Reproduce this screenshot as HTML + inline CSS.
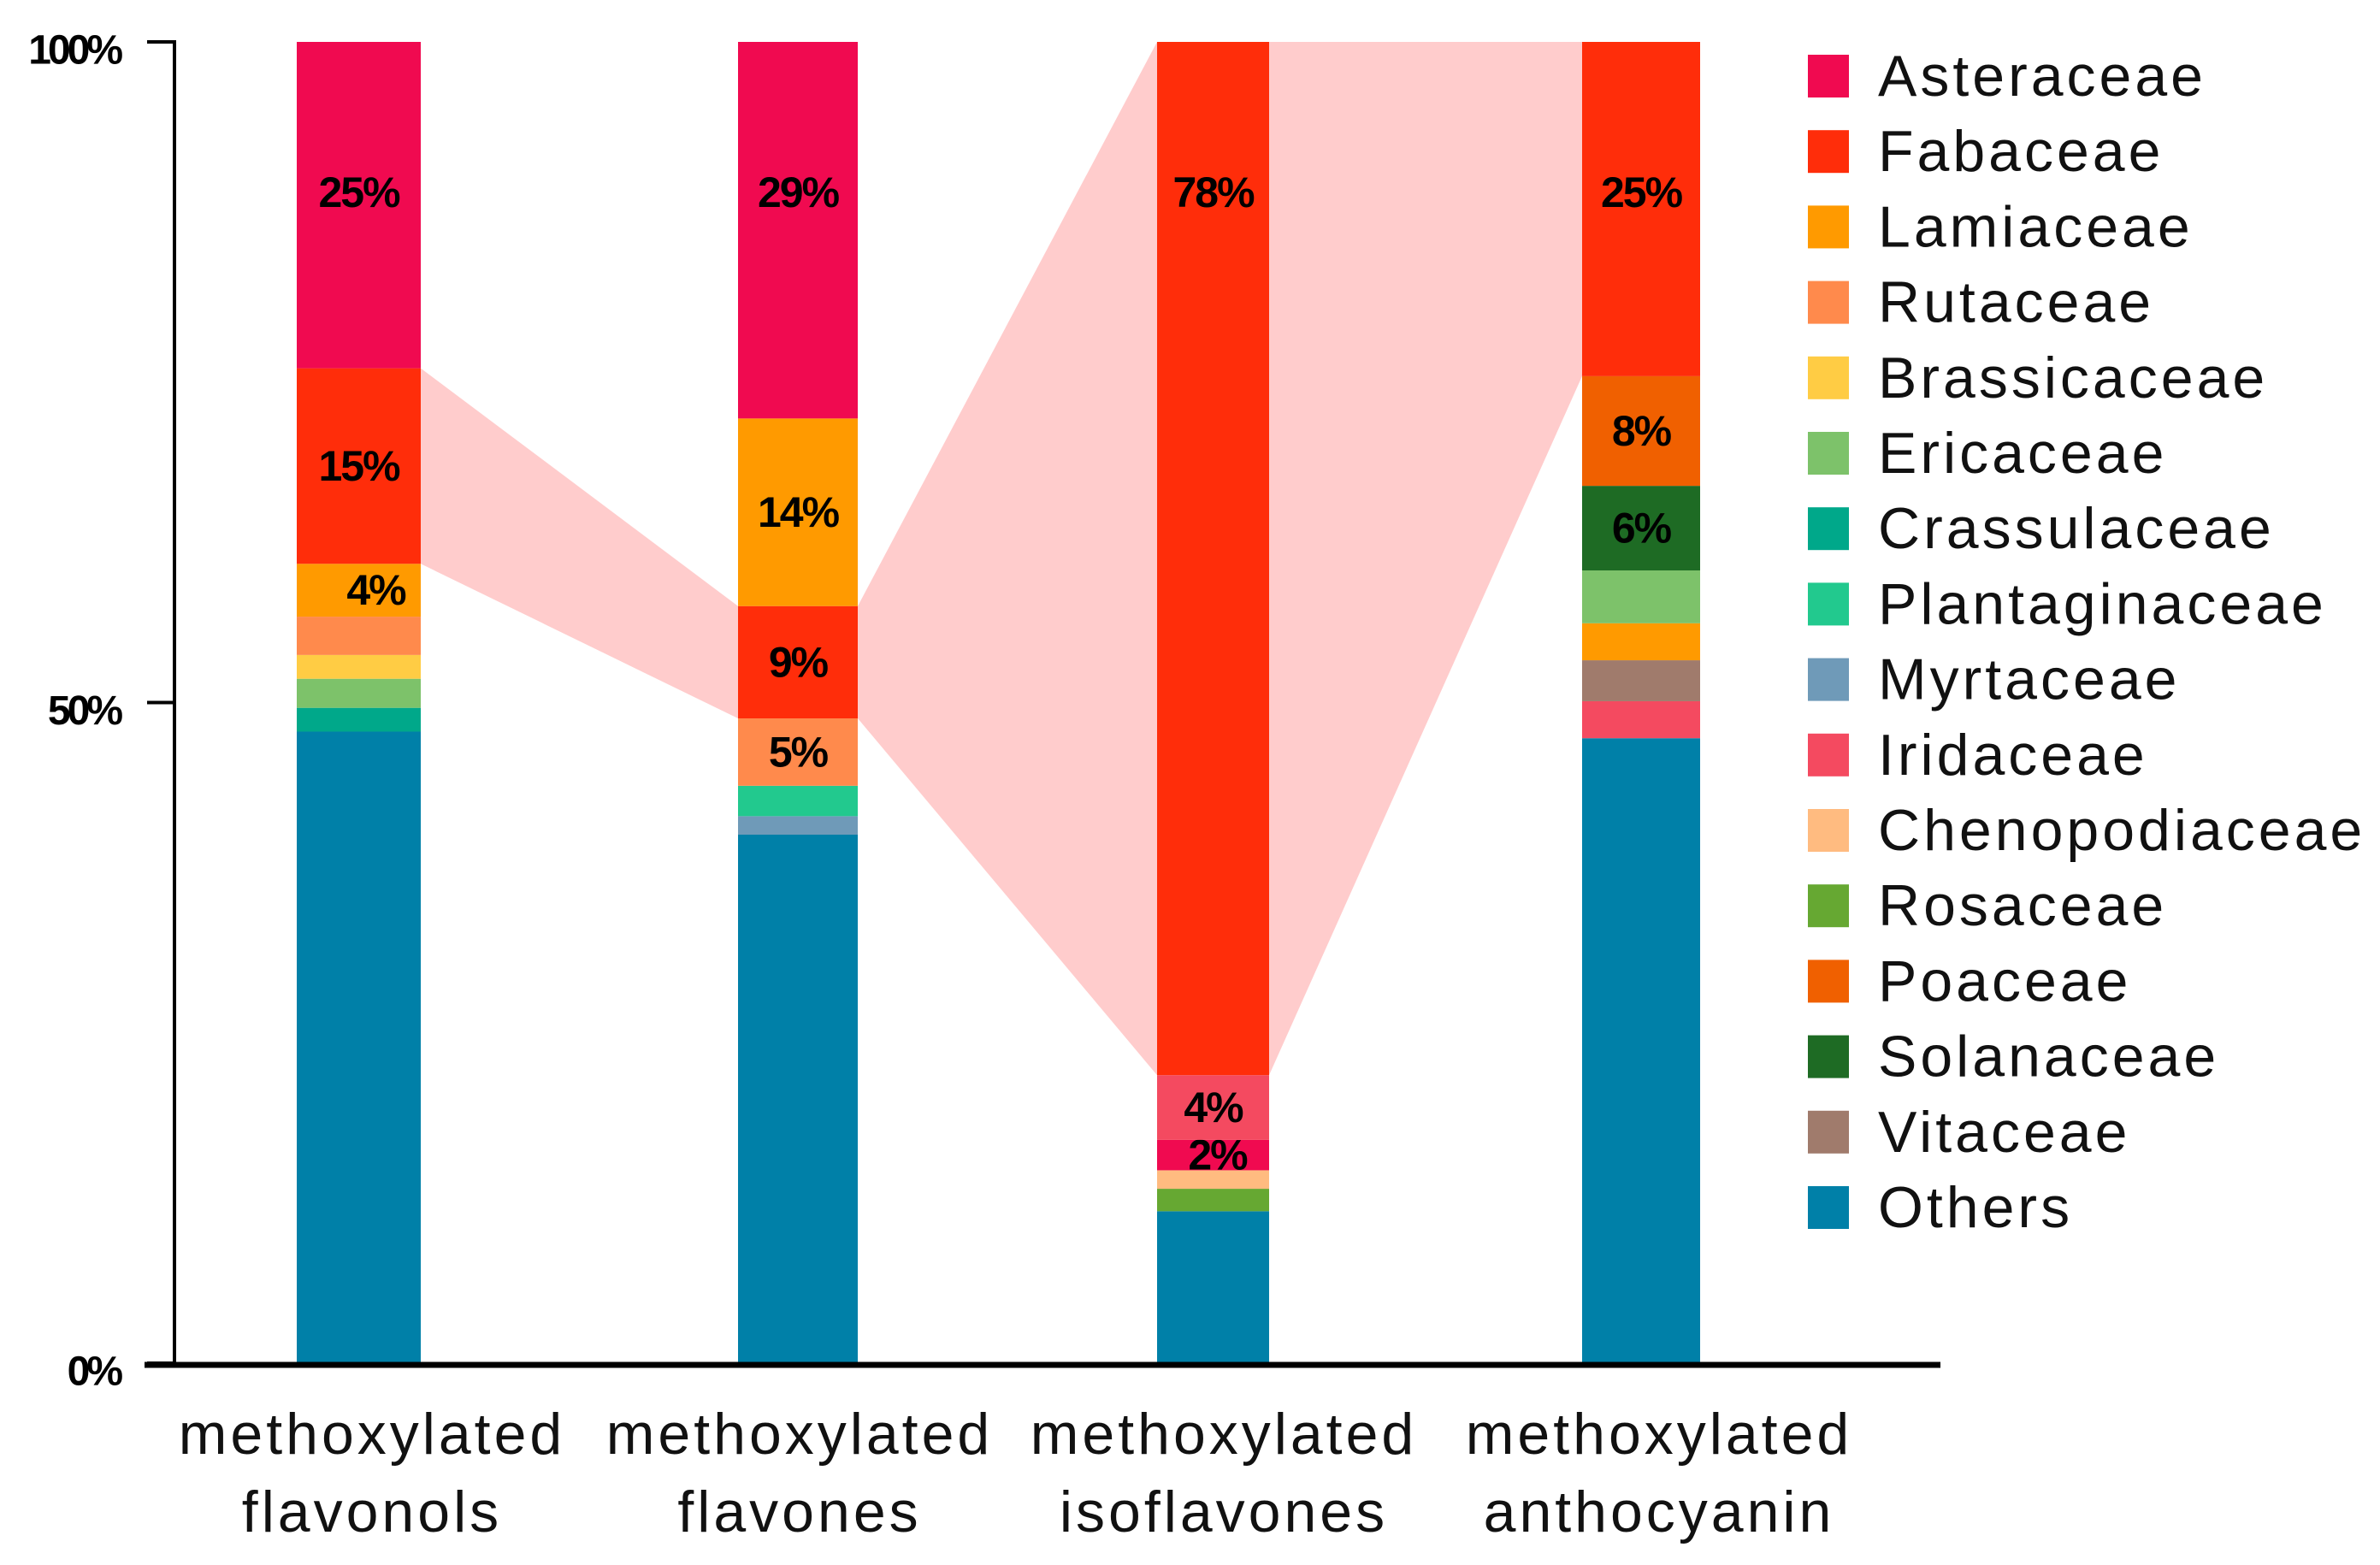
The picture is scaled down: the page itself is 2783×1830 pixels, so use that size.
<!DOCTYPE html>
<html><head><meta charset="utf-8"><style>
html,body{margin:0;padding:0;background:#fff;}
svg{display:block;}
text{font-family:"Liberation Sans",Arial,sans-serif;}
</style></head><body>
<svg id="chart" width="2783" height="1830" viewBox="0 0 2783 1830"></svg>
<script>
const categories = [["methoxylated","flavonols"],["methoxylated","flavones"],["methoxylated","isoflavones"],["methoxylated","anthocyanin"]];
const families = ["Asteraceae","Fabaceae","Lamiaceae","Rutaceae","Brassicaceae","Ericaceae","Crassulaceae","Plantaginaceae","Myrtaceae","Iridaceae","Chenopodiaceae","Rosaceae","Poaceae","Solanaceae","Vitaceae","Others"];
const colors = ["#f00a50","#ff2d0a","#ff9a00","#ff8a4c","#ffcc44","#7dc26a","#00a88a","#22c98e","#6f9ab8","#f44a60","#ffbb80","#66a832","#f06000","#1e6b24","#a07b6c","#0080a8"];
// stacks listed bottom to top: [family, value]
const stack1 = [["Others",47.8],["Crassulaceae",1.8],["Ericaceae",2.2],["Brassicaceae",1.8],["Rutaceae",2.9],["Lamiaceae",4.0],["Fabaceae",14.8],["Asteraceae",24.7]];
const stack2 = [["Others",40.0],["Myrtaceae",1.4],["Plantaginaceae",2.3],["Rutaceae",5.1],["Fabaceae",8.5],["Lamiaceae",14.2],["Asteraceae",28.5]];
const stack3 = [["Others",11.5],["Rosaceae",1.7],["Chenopodiaceae",1.4],["Asteraceae",2.3],["Iridaceae",4.9],["Fabaceae",78.2]];
const stack4 = [["Others",47.3],["Iridaceae",2.8],["Vitaceae",3.1],["Lamiaceae",2.8],["Ericaceae",4.0],["Solanaceae",6.4],["Poaceae",8.3],["Fabaceae",25.3]];
const labels1 = {"Asteraceae":"25%","Fabaceae":"15%","Lamiaceae":"4%"};
const labels2 = {"Asteraceae":"29%","Lamiaceae":"14%","Fabaceae":"9%","Rutaceae":"5%"};
const labels3 = {"Fabaceae":"78%","Iridaceae":"4%","Asteraceae":"2%"};
const labels4 = {"Fabaceae":"25%","Poaceae":"8%","Solanaceae":"6%"};
const yTicks = [0,50,100];
const yTickLabels = ["0%","50%","100%"];

const stacks=[stack1,stack2,stack3,stack4], labelSets=[labels1,labels2,labels3,labels4];
const NS="http://www.w3.org/2000/svg", svg=document.getElementById('chart');
const Y0=1594, Y100=49;
const y=v=>Y0-(Y0-Y100)*v/100;
const barX=[[347,492],[863,1003],[1353,1484],[1850,1988]];
function mk(tag,attrs,parent){const e=document.createElementNS(NS,tag);for(const k in attrs)e.setAttribute(k,attrs[k]);(parent||svg).appendChild(e);return e;}
const colorOf=f=>colors[families.indexOf(f)];

const segs=stacks.map(s=>{let acc=0;const o={};s.forEach(([f,v])=>{o[f]=[acc,acc+v];acc+=v;});return o;});

const ribG=mk('g',{});


for(let i=0;i<3;i++){
  const a=segs[i]["Fabaceae"], b=segs[i+1]["Fabaceae"];
  const x1=barX[i][1], x2=barX[i+1][0];
  const p=mk('polygon',{points:`${x1},${y(a[1])} ${x2},${y(b[1])} ${x2},${y(b[0])} ${x1},${y(a[0])}`,fill:'#ffcccc'},ribG);
  
  
}

stacks.forEach((s,i)=>{
  const g=mk('g',{});
  
  
  s.forEach(([f,v])=>{
    const [lo,hi]=segs[i][f];
    const r=mk('rect',{x:barX[i][0],y:y(hi),width:barX[i][1]-barX[i][0],height:y(lo)-y(hi),fill:colorOf(f)},g);
    
    
    const lab=labelSets[i][f];
    if(lab){
      const cx=(barX[i][0]+barX[i][1])/2+(i===0&&f==="Lamiaceae"?20:0)+(i===2&&f==="Asteraceae"?5:0);
      const cy=Math.min((y(hi)+y(lo))/2, y(hi)+176);
      const t=mk('text',{x:cx,y:cy,'text-anchor':'middle','dominant-baseline':'central','font-size':50,'font-weight':'bold','letter-spacing':-2,fill:'#000'},g);
      t.textContent=lab;
      
      
    }
  });
});

const ax=mk('g',{});


mk('line',{x1:204,y1:Y100-2,x2:204,y2:Y0,stroke:'#000','stroke-width':4},ax);
yTicks.forEach((v,i)=>{
  mk('line',{x1:172,y1:y(v),x2:204,y2:y(v),stroke:'#000','stroke-width':4},ax);
  const t=mk('text',{x:140,y:y(v)+10,'text-anchor':'end','dominant-baseline':'central','font-size':48,'font-weight':'bold','letter-spacing':-4,fill:'#000'},ax);
  t.textContent=yTickLabels[i];
  
  
});
const xa=mk('line',{x1:169,y1:Y0+2,x2:2269,y2:Y0+2,stroke:'#000','stroke-width':7});


const xc=[435,935,1431,1940];
categories.forEach((c,i)=>{
  c.forEach((line,j)=>{
    const t=mk('text',{x:xc[i],y:1677+j*91,'text-anchor':'middle','dominant-baseline':'central','font-size':68,'letter-spacing':4,fill:'#111'});
    t.textContent=line;
    
    
  });
});

const lg=mk('g',{});


families.forEach((f,i)=>{
  const cy=89+i*88.2;
  const e=mk('g',{},lg);
  
  
  mk('rect',{x:2114,y:cy-25,width:48,height:50,fill:colors[i]},e);
  const t=mk('text',{x:2196,y:cy,'dominant-baseline':'central','font-size':68,'letter-spacing':4,fill:'#111'},e);
  t.textContent=f;
});
</script>
</body></html>
